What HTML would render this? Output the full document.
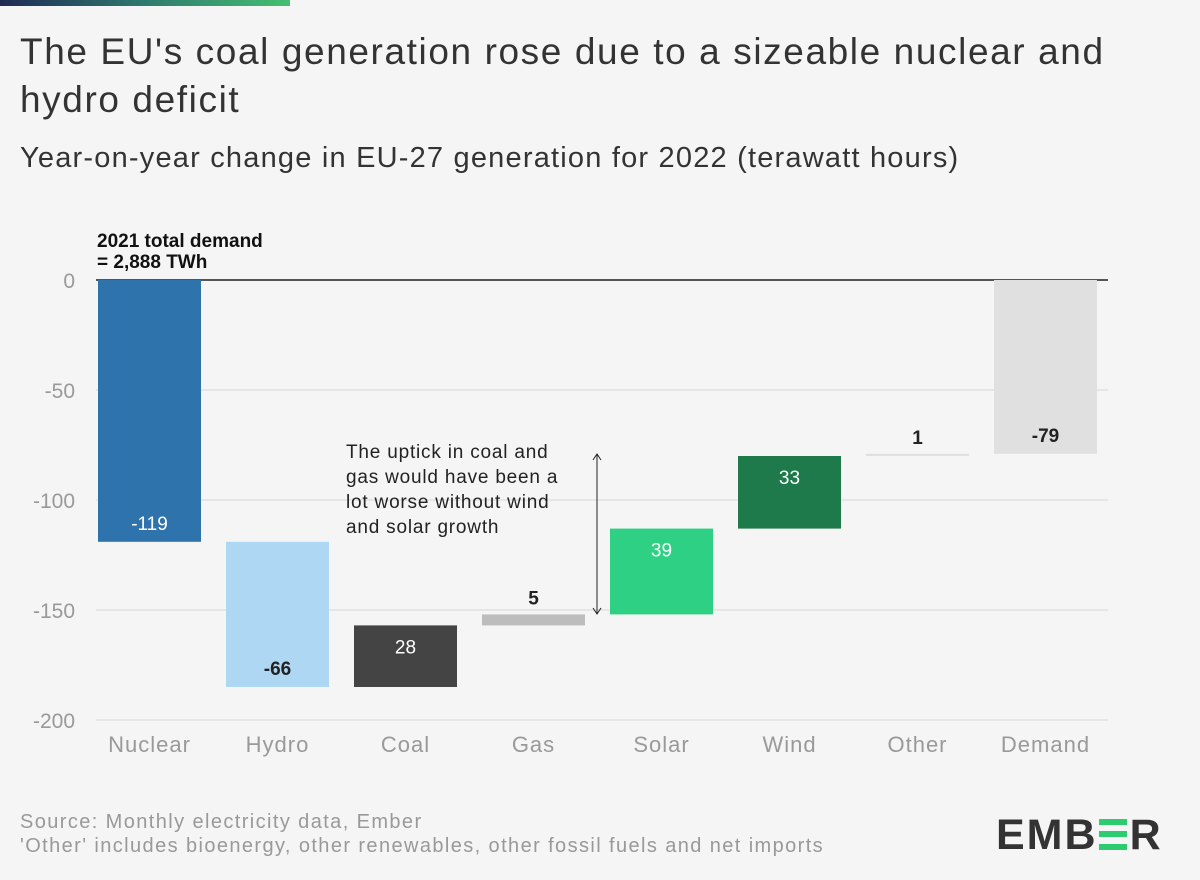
<!DOCTYPE html>
<html><head><meta charset="utf-8"><style>
body{margin:0;background:#f5f5f5;font-family:"Liberation Sans",sans-serif;}
#wrap{position:relative;width:1200px;height:880px;overflow:hidden;background:#f5f5f5;}
.t{position:absolute;white-space:nowrap;}
</style></head><body>
<div id="wrap">
<div style="position:absolute;left:0;top:0;width:290px;height:6px;background:linear-gradient(90deg,#1f2a55,#2f7a6e,#45bf72);"></div>
<div class="t" style="left:20px;top:28px;font-size:37px;letter-spacing:1.6px;line-height:48px;color:#333;white-space:normal;width:1120px;">The EU's coal generation rose due to a sizeable nuclear and hydro deficit</div>
<div class="t" style="left:20px;top:142px;font-size:29px;letter-spacing:1.2px;color:#333;">Year-on-year change in EU-27 generation for 2022 (terawatt hours)</div>
<svg id="chart" width="1200" height="880" style="position:absolute;left:0;top:0"></svg>
<div class="t" style="left:20px;top:810px;font-size:20px;letter-spacing:1.4px;line-height:24px;color:#999;">Source: Monthly electricity data, Ember<br>'Other' includes bioenergy, other renewables, other fossil fuels and net imports</div>
<div style="position:absolute;left:996px;top:812px;height:46px;font-size:43px;font-weight:bold;color:#333;letter-spacing:2px;line-height:46px;">EMB<span style="display:inline-block;width:28px;height:31px;margin:0 3px 0 1px;vertical-align:-1px;position:relative;"><span style="position:absolute;left:0;top:0;width:28px;height:6px;background:#2ecc71"></span><span style="position:absolute;left:0;top:12px;width:28px;height:6px;background:#2ecc71"></span><span style="position:absolute;left:0;top:25px;width:28px;height:6px;background:#2ecc71"></span></span>R</div>
</div>
<script>
const categories=["Nuclear","Hydro","Coal","Gas","Solar","Wind","Other","Demand"];
const changes=[-119,-66,28,5,39,33,1,-79];
const labels=["-119","-66","28","5","39","33","1","-79"];
const colors=["#2f73ad","#aed7f4","#444444","#bdbdbd","#2ed083","#1e7a4a","#e0e0e0","#e0e0e0"];
const labelColors=["#fff","#222","#fff","#222","#fff","#fff","#222","#222"];
const yTicks=[0,-50,-100,-150,-200];
const svg=document.getElementById('chart');const NS="http://www.w3.org/2000/svg";
const y=v=>280-v*2.2;
const x=i=>98+i*128;const bw=103;
function mk(t,a){const e=document.createElementNS(NS,t);for(const k in a)e.setAttribute(k,a[k]);svg.appendChild(e);return e;}
yTicks.forEach(t=>{
 const l=mk('line',{x1:96,x2:1108,y1:y(t),y2:y(t),stroke:t===0?'#222':'#d6d6d6','stroke-width':t===0?1.5:1});
 
 
 const tx=mk('text',{x:75,y:y(t)+8,'text-anchor':'end','font-size':21,fill:'#999'});tx.textContent=t;
 
 
});
let run=0;
categories.forEach((c,i)=>{
 let a,b;
 if(i===categories.length-1){a=0;b=changes[i];}else{a=run;b=run+changes[i];run=b;}
 const top=Math.min(y(a),y(b)),h=Math.max(Math.abs(y(a)-y(b)),2);
 const r=mk('rect',{x:x(i),y:top,width:bw,height:h,fill:colors[i]});
 
 
 const lo=Math.max(y(a),y(b));
 let ly;
 if(c==="Gas"||c==="Other")ly=top-10;
 else if(c==="Nuclear"||c==="Hydro"||c==="Demand")ly=lo-12;
 else ly=top+28;
 const t=mk('text',{x:x(i)+bw/2,y:ly,'text-anchor':'middle','font-size':19,fill:(c==="Gas"||c==="Other")?'#222':labelColors[i],'font-weight':(labelColors[i]==='#222')?'bold':'normal'});
 t.textContent=labels[i];
 
 
 const cl=mk('text',{x:x(i)+bw/2,y:752,'text-anchor':'middle','font-size':22,'letter-spacing':1,fill:'#999'});cl.textContent=c;
 
 
});
const ann=mk('text',{x:97,y:247,'font-size':19,'font-weight':'bold',fill:'#111'});
ann.innerHTML='<tspan x="97">2021 total demand</tspan><tspan x="97" dy="21">= 2,888 TWh</tspan>';


const note=mk('text',{x:346,y:458,'font-size':19,'letter-spacing':0.8,fill:'#222'});
note.innerHTML='<tspan x="346">The uptick in coal and</tspan><tspan x="346" dy="25">gas would have been a</tspan><tspan x="346" dy="25">lot worse without wind</tspan><tspan x="346" dy="25">and solar growth</tspan>';


const ar=mk('g',{stroke:'#222','stroke-width':1,fill:'none'});
ar.innerHTML='<line x1="597" y1="454" x2="597" y2="614"/><polyline points="593,460 597,454 601,460"/><polyline points="593,608 597,614 601,608"/>';


</script>
</body></html>
